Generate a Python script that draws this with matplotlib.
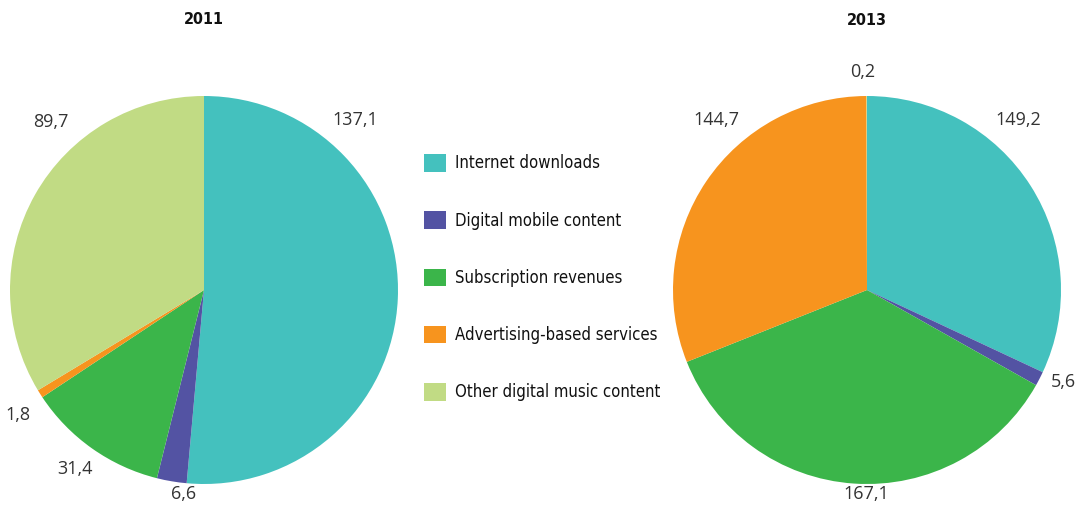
import matplotlib
matplotlib.use("Agg")
import matplotlib.pyplot as plt
from matplotlib.font_manager import FontProperties

categories = ["Internet downloads", "Digital mobile content", "Subscription revenues",
              "Advertising-based services", "Other digital music content"]
colors = ["#44C1BE", "#5353A3", "#3BB54A", "#F7941E", "#C1DB84"]
values_2011 = [137.1, 6.6, 31.4, 1.8, 89.7]
values_2013 = [149.2, 5.6, 167.1, 144.7, 0.2]
labels_2011 = ["137,1", "6,6", "31,4", "1,8", "89,7"]
labels_2013 = ["149,2", "5,6", "167,1", "144,7", "0,2"]

# label positions (in units of pie radius, relative to centre)
pos_2011 = [(0.778, 0.876), (-0.103, -1.052), (-0.665, -0.923), (-0.959, -0.644), (-0.789, 0.866)]
pos_2013 = [(0.778, 0.876), (1.010, -0.474), (-0.005, -1.052), (-0.778, 0.876), (-0.021, 1.124)]

W, H = 1078, 513
fig = plt.figure(figsize=(W / 100, H / 100), dpi=100)

light = ["Open Sans", "DejaVu Sans"]

R = 194

def make_ax(cx, cy):
    return fig.add_axes([(cx - R) / W, (H - cy - R) / H, 2 * R / W, 2 * R / H])

def draw(ax, vals, labs, pos, title):
    wedges, _ = ax.pie(vals, colors=colors, startangle=90, counterclock=False,
                       radius=1, wedgeprops=dict(linewidth=0))
    ax.set_xlim(-1, 1)
    ax.set_ylim(-1, 1)
    ax.set_aspect("equal")
    ax.axis("off")
    for lab, (x, y) in zip(labs, pos):
        ax.text(x, y, lab, ha="center", va="center", fontsize=13,
                family=light, color="#333333", clip_on=False)
    ax.text(0, 270 / R, title, ha="center", va="center", fontsize=11.5,
            fontweight="bold", family="DejaVu Sans", stretch="condensed",
            color="#111111", clip_on=False)
    return wedges

w1 = draw(make_ax(204, 290), values_2011, labels_2011, pos_2011, "2011")
draw(make_ax(867, 290), values_2013, labels_2013, pos_2013, "2013")

legprop = FontProperties(family="DejaVu Sans", stretch="condensed", size=12)
leg = fig.legend(w1, categories, loc="upper left",
                 bbox_to_anchor=(424 / W, 1 - 154 / H),
                 frameon=False, prop=legprop,
                 handlelength=1.35, handleheight=1.25, handletextpad=0.5,
                 labelspacing=2.33, borderaxespad=0, borderpad=0)
for t in leg.get_texts():
    t.set_color("#111111")

fig.savefig("out.png", dpi=100)
